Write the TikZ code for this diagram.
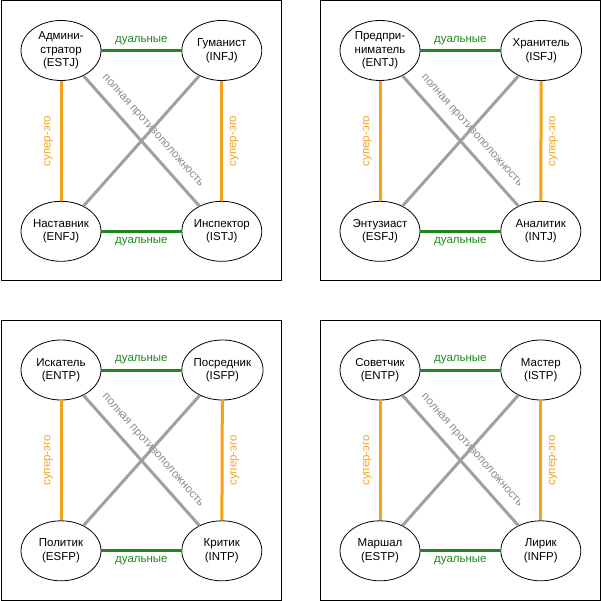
\documentclass[tikz,border=0pt]{standalone}
\usepackage{fontspec}
\setmainfont{Liberation Sans}
\usetikzlibrary{shapes.geometric,positioning}
\definecolor{dualgreen}{RGB}{30,135,30}
\definecolor{egoorange}{RGB}{245,162,25}
\definecolor{oppgray}{RGB}{160,160,160}
\definecolor{opptext}{RGB}{140,140,140}
\tikzset{
  typ/.style={ellipse,draw,line width=0.8pt,minimum width=80pt,minimum height=60pt,
    inner sep=0pt,align=center,font=\fontsize{11.5}{13.5}\selectfont},
  dual/.style={line width=3pt,dualgreen},
  ego/.style={line width=3pt,egoorange},
  opp/.style={line width=3pt,oppgray},
  lbl/.style={font=\fontsize{11.5}{12}\selectfont,inner sep=1pt}
}
% one quadra: corner x, corner y, prefix, then the four types (tl, tr, bl, br)
\newcommand{\quadra}[7]{%
  \draw[line width=1pt] (#1,#2) rectangle ++(280,280);
  \node[typ] (#3tl) at ({#1+60},{#2+50}) {#4};
  \node[typ,right=80pt of #3tl] (#3tr) {#5};
  \node[typ,below=120pt of #3tl] (#3bl) {#6};
  \node[typ,right=80pt of #3bl] (#3br) {#7};
  \draw[opp] (#3tl) -- (#3br) node[lbl,midway,sloped,above=8pt,opptext] {полная противоположность};
  \draw[opp] (#3tr) -- (#3bl);
  \draw[dual] (#3tl) -- (#3tr) node[lbl,midway,above=3.5pt] {дуальные};
  \draw[dual] (#3bl) -- (#3br) node[lbl,midway,below=3.5pt] {дуальные};
  \draw[ego] (#3bl) -- (#3tl) node[lbl,midway,xshift=-12.5pt,rotate=90] {супер-эго};
  \draw[ego] (#3br) -- (#3tr) node[lbl,midway,xshift=12.5pt,rotate=90] {супер-эго};}

\begin{document}
\begin{tikzpicture}[x=1pt,y=-1pt]
\useasboundingbox (0,0) rectangle (601,601);
\quadra{1}{0.5}{a}{Админи-\\стратор\\(ESTJ)}{Гуманист\\(INFJ)}{Наставник\\(ENFJ)}{Инспектор\\(ISTJ)}
\quadra{320}{0.5}{b}{Предпри-\\ниматель\\(ENTJ)}{Хранитель\\(ISFJ)}{Энтузиаст\\(ESFJ)}{Аналитик\\(INTJ)}
\quadra{1}{320}{c}{Искатель\\(ENTP)}{Посредник\\(ISFP)}{Политик\\(ESFP)}{Критик\\(INTP)}
\quadra{320}{320}{d}{Советчик\\(ENTP)}{Мастер\\(ISTP)}{Маршал\\(ESTP)}{Лирик\\(INFP)}
\end{tikzpicture}
\end{document}
